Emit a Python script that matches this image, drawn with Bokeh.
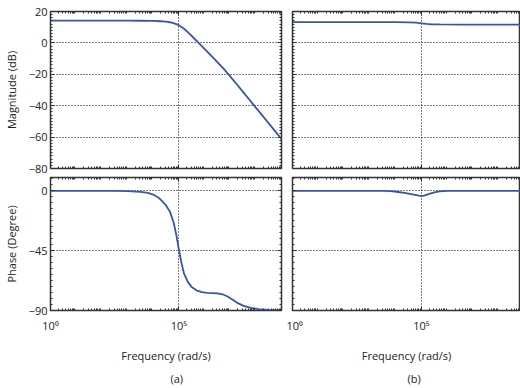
from bokeh.plotting import figure
from bokeh.models import FixedTicker, LinearAxis, LogAxis, Title
from bokeh.layouts import column, row
from bokeh.embed import file_html
from bokeh.resources import INLINE

# ---- data (log10 of frequency in rad/s, value) ----
mag_a_logw = [0, 3, 3.5, 4.0, 4.3, 4.5, 4.7, 4.85, 5.0, 5.15, 5.3, 5.45, 5.6, 5.77,
              6.0, 6.25, 6.5, 6.75, 7.0, 7.25, 7.5, 7.75, 8.0, 8.25, 8.5, 8.75, 9.0]
mag_a_db = [14.2, 14.2, 14.1, 14.0, 13.8, 13.5, 13.0, 12.3, 11.3, 9.7, 7.6, 5.3, 2.8, 0.0,
            -3.8, -8.0, -12.2, -16.6, -21.3, -26.2, -31.2, -36.2, -41.2, -46.2, -51.2, -56.2, -61.2]

ph_a_logw = [0, 2.5, 3.0, 3.5, 3.8, 4.0, 4.2, 4.35, 4.5, 4.65, 4.8, 4.9, 5.0, 5.1, 5.2,
             5.35, 5.5, 5.7, 5.9, 6.1, 6.3, 6.5, 6.7, 6.9, 7.1, 7.3, 7.5, 7.8, 8.1, 8.5, 9.0]
ph_a_deg = [0, 0, -0.2, -0.8, -1.6, -2.8, -5.0, -7.8, -11.0, -15.5, -24.0, -33.0, -44.0, -54.0, -62.0,
            -68.5, -72.4, -75.0, -76.2, -76.7, -76.9, -77.1, -77.8, -79.5, -82.0, -84.5, -86.3, -88.0, -89.0, -89.6, -89.9]

mag_b_logw = [0, 4.0, 4.5, 4.8, 5.0, 5.2, 5.4, 5.7, 6.5, 8.84]
mag_b_db = [13.2, 13.2, 13.1, 12.9, 12.5, 12.1, 11.85, 11.75, 11.7, 11.7]

ph_b_logw = [0, 3.5, 3.8, 4.1, 4.4, 4.7, 4.9, 5.0, 5.1, 5.3, 5.5, 5.7, 6.0, 6.5, 8.84]
ph_b_deg = [0, 0, -0.3, -0.9, -1.7, -2.8, -3.7, -4.0, -3.6, -2.3, -1.2, -0.5, -0.1, 0, 0]

x_ticks = [1, 100000]
x_tick_labels = ["10\u2070", "10\u2075"]
mag_ticks = [-80, -60, -40, -20, 0, 20]
mag_tick_labels = ["\u221280", "\u221260", "\u221240", "\u221220", "0", "20"]
ph_ticks = [-90, -45, 0]
ph_tick_labels = ["\u221290", "\u221245", "0"]

FONT = "Open Sans"
TXT = "#222222"
LINE = "#3a55a6"

x_minor = [k * 10 ** d for d in range(0, 9) for k in range(2, 10)]
mag_minor = list(range(-80, 21, 2))
ph_minor = [v * 4.5 for v in range(-20, 3)]


def hide_labels(ax):
    ax.major_label_text_font_size = "0px"
    ax.major_label_text_alpha = 0
    ax.major_label_standoff = 0


def style_axis(ax):
    ax.axis_line_color = None
    ax.major_tick_in = 4
    ax.major_tick_out = 0
    ax.minor_tick_in = 2
    ax.minor_tick_out = 0
    ax.major_tick_line_color = "#333333"
    ax.minor_tick_line_color = "#333333"
    ax.major_label_text_font = FONT
    ax.major_label_text_font_size = "11px"
    ax.major_label_text_color = TXT
    ax.axis_label_text_font = FONT
    ax.axis_label_text_font_size = "11px"
    ax.axis_label_text_font_style = "normal"
    ax.axis_label_text_color = TXT


def make(x_end, yr, yt, ytl, yminor, width, height, bl, br, bt, bb,
         show_y, show_x, ylabel, caption, cap_off, right_axis=True):
    p = figure(width=width, height=height, x_axis_type="log",
               x_range=(1, x_end), y_range=yr,
               output_backend="svg", toolbar_location=None,
               min_border_left=bl, min_border_right=br,
               min_border_top=bt, min_border_bottom=bb)
    p.outline_line_color = "#333333"
    p.outline_line_width = 1.5
    p.outline_line_alpha = 1
    p.background_fill_color = "white"
    p.border_fill_color = "white"

    xt = FixedTicker(ticks=x_ticks, minor_ticks=x_minor)
    ytk = FixedTicker(ticks=yt, minor_ticks=yminor)

    xa = p.xaxis[0]
    xa.ticker = xt
    style_axis(xa)
    xa.major_label_overrides = dict(zip(x_ticks, x_tick_labels))
    xa.major_label_standoff = 7
    if show_x:
        xa.axis_label = "Frequency (rad/s)"
        xa.axis_label_standoff = 12
    else:
        hide_labels(xa)

    ya = p.yaxis[0]
    ya.ticker = ytk
    style_axis(ya)
    ya.major_label_overrides = dict(zip(yt, ytl))
    ya.major_label_standoff = 3
    if show_y:
        ya.axis_label = ylabel
        ya.axis_label_standoff = 7
    else:
        hide_labels(ya)

    top = LogAxis(ticker=FixedTicker(ticks=x_ticks, minor_ticks=x_minor))
    style_axis(top)
    hide_labels(top)
    p.add_layout(top, "above")
    if right_axis:
        rt = LinearAxis(ticker=FixedTicker(ticks=yt, minor_ticks=yminor))
        style_axis(rt)
        hide_labels(rt)
        p.add_layout(rt, "right")

    p.xgrid.ticker = xt
    p.ygrid.ticker = ytk
    for g in (p.xgrid[0], p.ygrid[0]):
        g.grid_line_color = "#000000"
        g.grid_line_dash = "1 2"
        g.grid_line_width = 1
        g.grid_line_alpha = 1

    if caption:
        p.add_layout(Title(text=caption, align="left", offset=cap_off,
                           text_font=FONT, text_font_size="11px",
                           text_font_style="normal", text_color=TXT,
                           standoff=6), "below")
    return p


XEND_B = 10 ** 8.84

p1 = make(1e9, (-80, 20), mag_ticks, mag_tick_labels, mag_minor,
          286, 175, 48, 5, 11, 7, True, False, "Magnitude (dB)", None, 0)
p1.line([10 ** v for v in mag_a_logw], mag_a_db, line_color=LINE, line_width=1.8)

p2 = make(XEND_B, (-80, 20), mag_ticks, mag_tick_labels, mag_minor,
          234, 175, 6, 0, 11, 7, False, False, "", None, 0, right_axis=False)
p2.line([10 ** v for v in mag_b_logw], mag_b_db, line_color=LINE, line_width=1.8)

p3 = make(1e9, (-90, 10), ph_ticks, ph_tick_labels, ph_minor,
          286, 213, 48, 5, 2, 72, True, True, "Phase (Degree)", "(a)", 120)
p3.line([10 ** v for v in ph_a_logw], ph_a_deg, line_color=LINE, line_width=1.8)

p4 = make(XEND_B, (-90, 10), ph_ticks, ph_tick_labels, ph_minor,
          234, 213, 6, 0, 2, 72, False, True, "", "(b)", 115, right_axis=False)
p4.line([10 ** v for v in ph_b_logw], ph_b_deg, line_color=LINE, line_width=1.8)

layout = column(row(p1, p2), row(p3, p4))
open("out.html", "w").write(file_html(layout, INLINE))
